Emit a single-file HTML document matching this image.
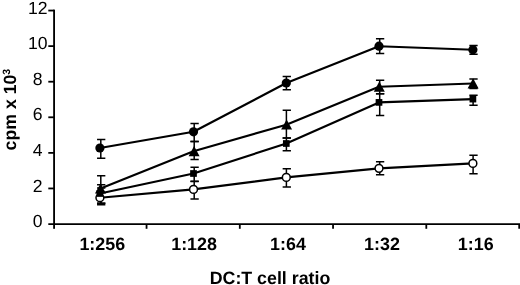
<!DOCTYPE html>
<html><head><meta charset="utf-8"><title>chart</title>
<style>html,body{margin:0;padding:0;background:#fff;width:520px;height:285px;overflow:hidden}body{position:relative;font-family:"Liberation Sans",sans-serif}</style></head>
<body>
<svg width="520" height="285" viewBox="0 0 520 285" style="position:absolute;left:0;top:0;filter:grayscale(1)">
<rect width="520" height="285" fill="#fff"/>
<g stroke="#000" stroke-width="1.85" fill="none" stroke-linecap="butt">
<path d="M54.08 9.65 V228.8"/>
<path d="M48.3 224.05 H520"/>
</g>
<g stroke="#000" stroke-width="1.8" fill="none">
<path d="M48.3 10.55 H54.2"/>
<path d="M48.3 46.13 H54.2"/>
<path d="M48.3 81.71 H54.2"/>
<path d="M48.3 117.29 H54.2"/>
<path d="M48.3 152.87 H54.2"/>
<path d="M48.3 188.45 H54.2"/>
<path d="M146.55 224.0 V228.8"/>
<path d="M239.80 224.0 V228.8"/>
<path d="M333.05 224.0 V228.8"/>
<path d="M426.30 224.0 V228.8"/>
<path d="M519.20 224.0 V228.8"/>
</g>
<g stroke="#000" stroke-width="1.5" fill="none">
<path d="M100.80 139.50 V158.20 M97.05 139.50 H105.35 M97.05 158.20 H105.35"/>
<path d="M194.20 123.50 V141.60 M190.45 123.50 H198.75 M190.45 141.60 H198.75"/>
<path d="M286.40 76.60 V89.70 M282.65 76.60 H290.95 M282.65 89.70 H290.95"/>
<path d="M379.70 38.70 V53.50 M375.95 38.70 H384.25 M375.95 53.50 H384.25"/>
<path d="M473.10 45.40 V54.30 M469.35 45.40 H477.65 M469.35 54.30 H477.65"/>
<path d="M100.80 175.80 V203.30 M97.05 175.80 H105.35 M97.05 203.30 H105.35"/>
<path d="M194.20 141.50 V159.60 M190.45 141.50 H198.75 M190.45 159.60 H198.75"/>
<path d="M286.40 110.20 V138.00 M282.65 110.20 H290.95 M282.65 138.00 H290.95"/>
<path d="M379.70 80.20 V93.80 M375.95 80.20 H384.25 M375.95 93.80 H384.25"/>
<path d="M473.10 78.90 V88.50 M469.35 78.90 H477.65 M469.35 88.50 H477.65"/>
<path d="M100.80 184.70 V203.30 M97.05 184.70 H105.35 M97.05 203.30 H105.35"/>
<path d="M194.20 167.20 V181.40 M190.45 167.20 H198.75 M190.45 181.40 H198.75"/>
<path d="M286.40 138.00 V150.70 M282.65 138.00 H290.95 M282.65 150.70 H290.95"/>
<path d="M379.70 93.70 V115.40 M375.95 93.70 H384.25 M375.95 115.40 H384.25"/>
<path d="M473.10 95.20 V105.30 M469.35 95.20 H477.65 M469.35 105.30 H477.65"/>
<path d="M100.80 188.00 V204.80 M97.05 188.00 H105.35 M97.05 204.80 H105.35"/>
<path d="M194.20 181.30 V198.90 M190.45 181.30 H198.75 M190.45 198.90 H198.75"/>
<path d="M286.40 168.80 V186.90 M282.65 168.80 H290.95 M282.65 186.90 H290.95"/>
<path d="M379.70 161.70 V174.80 M375.95 161.70 H384.25 M375.95 174.80 H384.25"/>
<path d="M473.10 155.20 V173.70 M469.35 155.20 H477.65 M469.35 173.70 H477.65"/>
</g>
<g stroke="#000" stroke-width="2.15" fill="none" stroke-linejoin="round">
<polyline points="99.90,148.00 193.50,131.80 286.30,83.00 379.00,46.20 472.90,49.70"/>
<polyline points="99.90,188.70 193.50,151.30 286.30,124.70 379.00,86.80 472.90,83.50"/>
<polyline points="99.90,193.50 193.50,173.50 286.30,143.50 379.00,102.40 472.90,99.10"/>
<polyline points="99.90,197.70 193.50,189.40 286.30,177.40 379.00,168.35 472.90,163.40"/>
</g>
<circle cx="99.90" cy="197.70" r="3.9" fill="#fff" stroke="#000" stroke-width="1.5"/>
<circle cx="193.50" cy="189.40" r="3.9" fill="#fff" stroke="#000" stroke-width="1.5"/>
<circle cx="286.30" cy="177.40" r="3.9" fill="#fff" stroke="#000" stroke-width="1.5"/>
<circle cx="379.00" cy="168.35" r="3.9" fill="#fff" stroke="#000" stroke-width="1.5"/>
<circle cx="472.90" cy="163.40" r="3.9" fill="#fff" stroke="#000" stroke-width="1.5"/>
<rect x="96.55" y="190.15" width="6.7" height="6.7" fill="#000"/>
<rect x="190.15" y="170.15" width="6.7" height="6.7" fill="#000"/>
<rect x="282.95" y="140.15" width="6.7" height="6.7" fill="#000"/>
<rect x="375.65" y="99.05" width="6.7" height="6.7" fill="#000"/>
<rect x="469.55" y="95.75" width="6.7" height="6.7" fill="#000"/>
<path d="M100.50 183.50 L106.00 193.60 H95.00 Z" fill="#000"/>
<path d="M194.10 146.10 L199.60 156.20 H188.60 Z" fill="#000"/>
<path d="M286.60 119.50 L292.10 129.60 H281.10 Z" fill="#000"/>
<path d="M379.30 81.60 L384.80 91.70 H373.80 Z" fill="#000"/>
<path d="M473.10 78.30 L478.60 88.40 H467.60 Z" fill="#000"/>
<circle cx="99.90" cy="148.00" r="4.6" fill="#000"/>
<circle cx="193.50" cy="131.80" r="4.6" fill="#000"/>
<circle cx="286.30" cy="83.00" r="4.6" fill="#000"/>
<circle cx="379.00" cy="46.20" r="4.6" fill="#000"/>
<circle cx="472.90" cy="49.70" r="4.6" fill="#000"/>
<g font-family="'Liberation Sans', sans-serif" fill="#000" text-rendering="geometricPrecision">
<text x="37.7" y="13.65" font-size="17.6" text-anchor="middle">12</text>
<text x="37.7" y="49.23" font-size="17.6" text-anchor="middle">10</text>
<text x="37.7" y="84.81" font-size="17.6" text-anchor="middle">8</text>
<text x="37.7" y="120.39" font-size="17.6" text-anchor="middle">6</text>
<text x="37.7" y="155.97" font-size="17.6" text-anchor="middle">4</text>
<text x="37.7" y="191.55" font-size="17.6" text-anchor="middle">2</text>
<text x="37.7" y="227.13" font-size="17.6" text-anchor="middle">0</text>
<text x="102.30" y="250.1" font-size="17.9" font-weight="bold" text-anchor="middle">1:256</text>
<text x="194.10" y="250.1" font-size="17.9" font-weight="bold" text-anchor="middle">1:128</text>
<text x="288.00" y="250.1" font-size="17.9" font-weight="bold" text-anchor="middle">1:64</text>
<text x="382.00" y="250.1" font-size="17.9" font-weight="bold" text-anchor="middle">1:32</text>
<text x="475.70" y="250.1" font-size="17.9" font-weight="bold" text-anchor="middle">1:16</text>
<text x="270" y="283.6" font-size="17.8" font-weight="bold" text-anchor="middle">DC:T cell ratio</text>
<text transform="translate(15.8 150.4) rotate(-90)" font-size="17.7" font-weight="bold" text-anchor="start">cpm x 10<tspan font-size="10.5" dy="-6.2">3</tspan></text>
</g>
</svg>
</body></html>
